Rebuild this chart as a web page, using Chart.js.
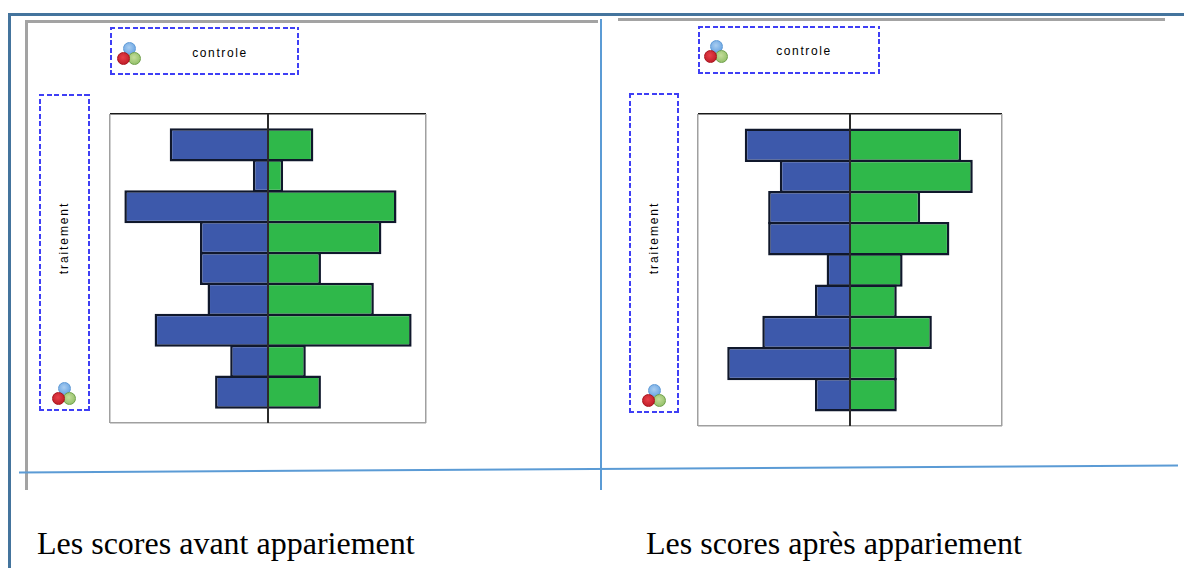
<!DOCTYPE html>
<html>
<head>
<meta charset="utf-8">
<script src="https://cdn.jsdelivr.net/npm/chart.js@4"></script>
<style>
  html, body { margin: 0; padding: 0; background: #fff; width: 1184px; height: 568px; overflow: hidden; }
  .abs { position: absolute; }
  .dash {
    position: absolute; box-sizing: border-box;
    background-image:
      repeating-linear-gradient(90deg, #3f3ff5 0 5px, transparent 5px 7.5px),
      repeating-linear-gradient(90deg, #3f3ff5 0 5px, transparent 5px 7.5px),
      repeating-linear-gradient(0deg, #3f3ff5 0 5px, transparent 5px 7.5px),
      repeating-linear-gradient(0deg, #3f3ff5 0 5px, transparent 5px 7.5px);
    background-size: 100% 2px, 100% 2px, 2px 100%, 2px 100%;
    background-position: 0 0, 0 100%, 0 0, 100% 0;
    background-repeat: no-repeat;
  }
  .label { position: absolute; font: 12px "Liberation Sans", sans-serif; letter-spacing: 1.6px; color: #000; white-space: nowrap; transform: translate(-50%, -50%); }
  .caption { position: absolute; font: 32px "Liberation Serif", serif; color: #000; white-space: nowrap; }
  .ball { position: absolute; width: 13px; height: 13px; border-radius: 50%; box-sizing: border-box; }
</style>
</head>
<body>
<script>
const bins = [1, 2, 3, 4, 5, 6, 7, 8, 9];

// avant appariement
const avantTraitement = [13, 2, 19, 9, 9, 8, 15, 5, 7];
const avantControle = [6, 2, 17, 15, 7, 14, 19, 5, 7];
const avantMax = 20.9;

// apres appariement
const apresTraitement = [18, 12, 14, 14, 4, 6, 15, 21, 6];
const apresControle = [19, 21, 12, 17, 9, 8, 14, 8, 8];
const apresMax = 26;

const binAxisMax = 10;
const labelControle = 'controle';
const labelTraitement = 'traitement';
const captionAvant = 'Les scores avant appariement';
const captionApres = 'Les scores après appariement';

function addDiv(cls, css, text) {
  const d = document.createElement('div');
  d.className = cls;
  d.style.cssText = css;
  if (text) d.textContent = text;
  document.body.appendChild(d);
  return d;
}

function line(x, y, w, h, color) {
  addDiv('abs', `left:${x}px;top:${y}px;width:${w}px;height:${h}px;background:${color}`);
}

function icon(x, y) {
  addDiv('ball', `left:${x - 6}px;top:${y - 10}px;border:1px solid #5f9ad6;background:radial-gradient(circle at 45% 40%,#a9cdf0,#5a9be0)`);
  addDiv('ball', `left:${x - 1}px;top:${y}px;border:1px solid #6fa04a;background:radial-gradient(circle at 45% 40%,#c4dd9a,#86b85c)`);
  addDiv('ball', `left:${x - 12}px;top:${y}px;border:1px solid #a8141e;background:radial-gradient(circle at 45% 40%,#e8404a,#b5141f)`);
}

function pyramid(left, top, width, height, traitement, controle, max) {
  const pad = 3;
  const canvas = document.createElement('canvas');
  canvas.width = width + pad * 2;
  canvas.height = height + pad * 2;
  canvas.style.cssText = `position:absolute;left:${left - pad}px;top:${top - pad}px`;
  document.body.appendChild(canvas);

  // barPercentage > 1 : les bordures des barres voisines se superposent
  const barStyle = { borderColor: '#10182c', borderWidth: 2.5, borderSkipped: 'start', barPercentage: 1.07, categoryPercentage: 1 };

  new Chart(canvas, {
    type: 'bar',
    data: {
      labels: bins,
      datasets: [
        { label: labelTraitement, data: traitement.map((v, i) => ({ x: -v, y: bins[i] })), backgroundColor: '#3d59ab', ...barStyle },
        { label: labelControle, data: controle.map((v, i) => ({ x: v, y: bins[i] })), backgroundColor: '#2fb84a', ...barStyle }
      ]
    },
    options: {
      indexAxis: 'y',
      responsive: false,
      animation: false,
      layout: { padding: pad },
      plugins: { legend: { display: false }, tooltip: { enabled: false } },
      scales: {
        x: {
          type: 'linear',
          stacked: true,
          min: -max,
          max: max,
          ticks: { display: false, stepSize: max },
          border: { display: false },
          grid: {
            z: 1,
            drawTicks: false,
            lineWidth: ctx => (ctx.tick && ctx.tick.value === 0) ? 2 : 1.5,
            color: ctx => (ctx.tick && ctx.tick.value === 0) ? '#2b2b2b' : '#a0a0a0'
          }
        },
        y: {
          type: 'linear',
          stacked: true,
          reverse: true,
          offset: false,
          min: 0,
          max: binAxisMax,
          ticks: { display: false, stepSize: binAxisMax },
          border: { display: false },
          grid: {
            offset: false,
            drawTicks: false,
            lineWidth: 1.5,
            color: ctx => (ctx.tick && ctx.tick.value === 0) ? '#1a1a1a' : '#a0a0a0'
          }
        }
      }
    }
  });
}

// cadres de la capture
line(8, 13, 1176, 3, '#44749d');
line(8, 13, 3, 555, '#44749d');
line(25, 20, 573, 3, '#a3a3a3');
line(25, 20, 3, 470, '#a3a3a3');
line(618, 18, 547, 3, '#a3a3a3');
line(600, 19, 2, 471, '#5b9bd5');
// trait bleu legerement incline
addDiv('abs', 'left:19px;top:468px;width:1159px;height:2px;background:#5b9bd5;transform:rotate(-0.35deg)');

pyramid(110, 114, 316, 309, avantTraitement, avantControle, avantMax);
pyramid(698, 114, 304, 312, apresTraitement, apresControle, apresMax);

addDiv('dash', 'left:110px;top:27px;width:189px;height:48px');
addDiv('dash', 'left:39px;top:94px;width:51px;height:317px');
addDiv('dash', 'left:698px;top:26px;width:182px;height:48px');
addDiv('dash', 'left:629px;top:93px;width:50px;height:320px');

icon(129, 52);
icon(716, 50);
icon(64, 392);
icon(654, 394);

addDiv('label', 'left:220px;top:53px', labelControle);
addDiv('label', 'left:804px;top:51px', labelControle);
addDiv('label', 'left:64px;top:238px;letter-spacing:1.9px;transform:translate(-50%,-50%) rotate(-90deg)', labelTraitement);
addDiv('label', 'left:654px;top:238px;letter-spacing:1.9px;transform:translate(-50%,-50%) rotate(-90deg)', labelTraitement);

addDiv('caption', 'left:37px;top:525px', captionAvant);
addDiv('caption', 'left:646px;top:525px', captionApres);
</script>
</body>
</html>
